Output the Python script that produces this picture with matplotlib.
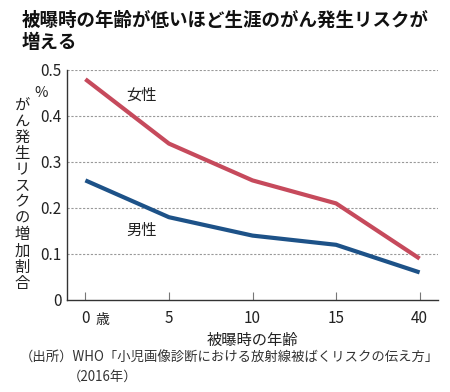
import numpy as np
import matplotlib.pyplot as plt

plt.rcParams['font.family'] = ['Noto Sans CJK JP', 'DejaVu Sans']

ages = ["0", "5", "10", "15", "40"]
female = [0.48, 0.34, 0.26, 0.21, 0.09]
male = [0.26, 0.18, 0.14, 0.12, 0.06]
yticks = [0, 0.1, 0.2, 0.3, 0.4, 0.5]
ytick_labels = ["0", "0.1", "0.2", "0.3", "0.4", "0.5"]
ylabel_text = "がん発生リスクの増加割合"

red = "#c64a5c"
blue = "#1d5288"

fig = plt.figure(figsize=(4.5, 3.92), dpi=100)
ax = fig.add_axes([67 / 450, 92 / 392, 371 / 450, 230 / 392])

x = np.arange(len(ages))
ax.plot(x, female, color=red, lw=3, solid_joinstyle="round", solid_capstyle="butt")
ax.plot(x, male, color=blue, lw=3, solid_joinstyle="round", solid_capstyle="butt")

ax.set_xlim(-0.22, 4.22)
ax.set_ylim(0, 0.5)
ax.set_yticks(yticks)
ax.set_yticklabels(ytick_labels)
ax.set_xticks(x)
ax.set_xticklabels(ages)

for yv in yticks[1:]:
    ax.axhline(yv, color="#999999", lw=0.8, ls=(0, (2, 1.5)), zorder=0)

for s in ["top", "right"]:
    ax.spines[s].set_visible(False)
for s in ["left", "bottom"]:
    ax.spines[s].set_color("#333333")
    ax.spines[s].set_linewidth(1.0)

ax.tick_params(axis="y", length=0, pad=4, labelsize=11, colors="#222222")
ax.tick_params(axis="x", direction="in", length=6, color="#777777", pad=7,
               labelsize=11, labelcolor="#222222")

ax.text(0.12, -0.029, "歳", fontsize=10, color="#222222", ha="left", va="top",
        clip_on=False)
ax.text(-0.53, 0.45, "%", fontsize=10.5, color="#222222", ha="center", va="center",
        clip_on=False)

ax.text(0.67, 0.445, "女性", fontsize=11, color="#222222", ha="center", va="center")
ax.text(0.67, 0.152, "男性", fontsize=11, color="#222222", ha="center", va="center")

ax.set_xlabel("被曝時の年齢", fontsize=11, color="#222222", labelpad=4)

# vertical (tategaki) y label, one character per step
y0, step = 105, 16.2
for i, ch in enumerate(ylabel_text):
    fig.text(22 / 450, 1 - (y0 + i * step) / 392, ch, fontsize=11, color="#222222",
             ha="center", va="center")

fig.text(22 / 450, 1 - 20 / 392, "被曝時の年齢が低いほど生涯のがん発生リスクが",
         fontsize=13.3, fontweight="bold", ha="left", va="center", color="#111111")
fig.text(22 / 450, 1 - 43 / 392, "増える",
         fontsize=13.3, fontweight="bold", ha="left", va="center", color="#111111")

fig.text(20 / 450, 1 - 358 / 392,
         "（出所）WHO「小児画像診断における放射線被ばくリスクの伝え方」",
         fontsize=9.6, ha="left", va="center", color="#333333")
fig.text(68 / 450, 1 - 377 / 392, "（2016年）",
         fontsize=9.6, ha="left", va="center", color="#333333")

fig.savefig("out.png", dpi=100)
